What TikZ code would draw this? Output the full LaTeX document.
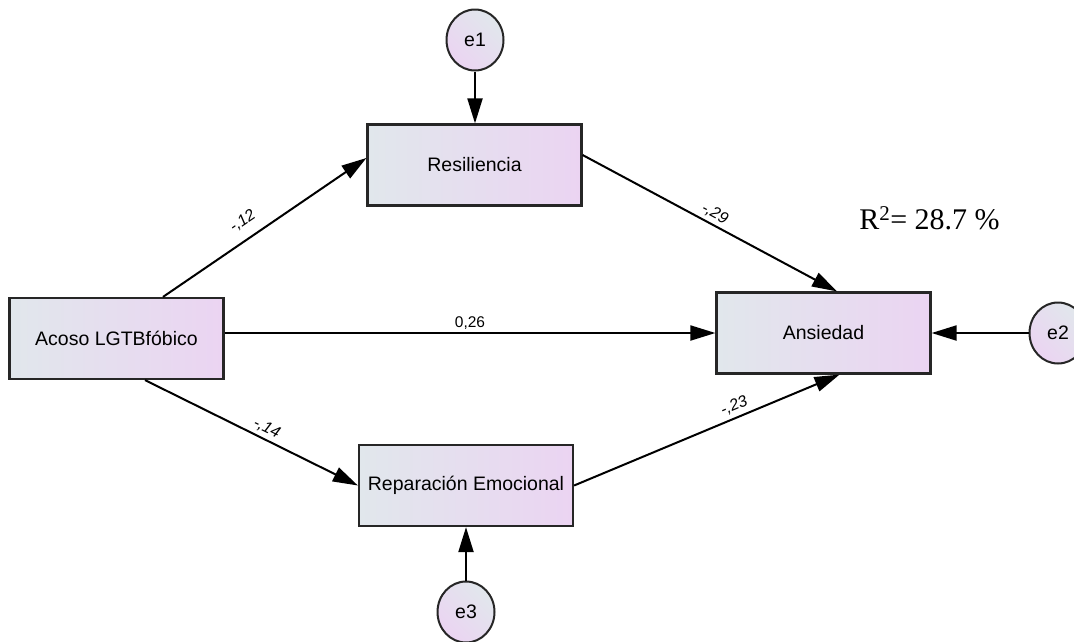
\documentclass[tikz,border=0pt]{standalone}
\usepackage{fontspec}
\setmainfont{Liberation Sans}
\newfontfamily\serifr{Liberation Serif}
\usetikzlibrary{arrows.meta,shapes.geometric}

\definecolor{shadeL}{HTML}{E1E7EC}
\definecolor{shadeR}{HTML}{EBD4F2}
\definecolor{edgegray}{HTML}{262626}

\tikzset{
  varbox/.style={draw=edgegray, line width=2.2pt, rectangle,
    minimum width=214pt, minimum height=81pt, inner sep=0pt,
    left color=shadeL, right color=shadeR,
    font=\fontsize{19.5}{21}\selectfont},
  errnode/.style={draw=edgegray, line width=2pt, ellipse,
    minimum width=57pt, minimum height=61pt, inner sep=0pt,
    shading=axis, left color=shadeL, right color=shadeR, shading angle=-45,
    font=\fontsize{19.5}{21}\selectfont},
  regpath/.style={draw=black, line width=2pt,
    -{Triangle[length=25pt,width=15pt]}},
  coef/.style={font=\fontsize{15.5}{17}\selectfont, inner sep=3pt},
  slcoef/.style={coef, font=\fontsize{16}{18}\selectfont\itshape, sloped}
}

\begin{document}
\begin{tikzpicture}[x=1pt, y=-1pt]
\useasboundingbox (0,0) rectangle (1074,641);

% observed variables
\node[varbox] (resil) at (474.5,165) {Resiliencia};
\node[varbox] (acoso) at (116.5,338.5) {Acoso LGTBfóbico};
\node[varbox] (ansie) at (823.5,333) {Ansiedad};
\node[varbox] (repar) at (466,485.5) {Reparación Emocional};

% error terms
\node[errnode] (e1) at (475,40) {e1};
\node[errnode] (e2) at (1058,333) {e2};
\node[errnode] (e3) at (466,612) {e3};

% regression paths
\draw[regpath] ([xshift=46.5pt]acoso.north) -- node[slcoef, pos=0.44, above=7pt] {-,12} ([yshift=7pt]resil.west);
\draw[regpath] ([yshift=10pt]resil.east) -- node[slcoef, pos=0.5, above] {-,29} ([xshift=13.5pt]ansie.north);
\draw[regpath] (acoso.east |- ansie.west) -- node[coef, pos=0.5, above] {0,26} (ansie.west);
\draw[regpath] ([xshift=28.5pt]acoso.south) -- node[slcoef, pos=0.55, above] {-,14} (repar.west);
\draw[regpath] (repar.east) -- node[slcoef, pos=0.62, above=1pt] {-,23} ([xshift=16pt]ansie.south);

% error paths
\draw[regpath] (e1.south) -- (e1.south |- resil.north);
\draw[regpath] (e2.west) -- (ansie.east);
\draw[regpath] (e3.north) -- (e3.north |- repar.south);

% explained variance
\node[font=\serifr\fontsize{30}{32}\selectfont, inner sep=0pt] (r2) at (929.5,218) {R\textsuperscript{2}= 28.7 \%};
\end{tikzpicture}
\end{document}
